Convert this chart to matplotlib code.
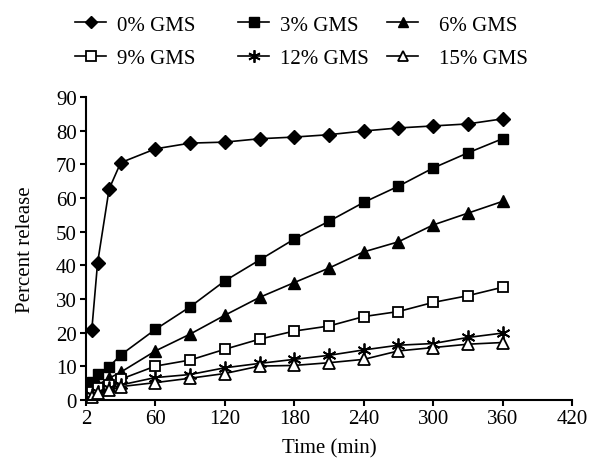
import matplotlib
matplotlib.use("Agg")
import matplotlib.pyplot as plt

plt.rcParams['font.family'] = ['Liberation Serif', 'DejaVu Serif']
plt.rcParams['font.size'] = 15

time_min = [5, 10, 20, 30, 60, 90, 120, 150, 180, 210, 240, 270, 300, 330, 360]

gms_0 = [20.8, 40.7, 62.7, 70.5, 74.6, 76.3, 76.6, 77.6, 78.1, 78.8, 79.9, 80.8, 81.4, 82.0, 83.5]
gms_3 = [5.5, 7.9, 9.9, 13.4, 21.0, 27.7, 35.4, 41.6, 47.8, 53.1, 58.7, 63.5, 68.9, 73.4, 77.6]
gms_6 = [3.5, 4.5, 6.5, 8.3, 14.6, 19.6, 25.2, 30.5, 34.9, 39.2, 44.0, 47.0, 52.0, 55.5, 59.0]
gms_9 = [2.5, 3.5, 4.5, 6.2, 10.1, 11.9, 15.1, 18.1, 20.5, 22.0, 24.8, 26.3, 29.0, 31.0, 33.5]
gms_12 = [1.5, 2.5, 3.5, 4.5, 6.7, 7.6, 9.6, 10.9, 12.1, 13.3, 14.9, 16.3, 16.8, 18.6, 19.9]
gms_15 = [1.0, 2.0, 3.0, 4.0, 5.2, 6.5, 7.9, 10.1, 10.3, 11.1, 12.1, 14.6, 15.6, 16.6, 17.1]

x_ticks = [0, 60, 120, 180, 240, 300, 360, 420]
x_tick_labels = ['2', '60', '120', '180', '240', '300', '360', '420']
y_ticks = [0, 10, 20, 30, 40, 50, 60, 70, 80, 90]

fig = plt.figure(figsize=(5.89, 4.6), dpi=100)
ax = fig.add_axes([0.146, 0.128, 0.825, 0.659])

series = [
    (gms_0, '0% GMS', dict(marker='D', markersize=7, mfc='black')),
    (gms_3, '3% GMS', dict(marker='s', markersize=7.5, mfc='black')),
    (gms_6, '6% GMS', dict(marker='^', markersize=8.5, mfc='black')),
    (gms_9, '9% GMS', dict(marker='s', markersize=7.5, mfc='white', mew=1.3)),
    (gms_12, '12% GMS', dict(marker=(6, 2, 0), markersize=10, mew=1.3)),
    (gms_15, '15% GMS', dict(marker='^', markersize=8.5, mfc='white', mew=1.3)),
]

handles = []
for vals, lab, style in series:
    h, = ax.plot(time_min, vals, color='black', linewidth=1.2, mec='black',
                 label=lab, clip_on=False, **style)
    handles.append(h)

ax.set_xlim(0, 420)
ax.set_ylim(0, 90)
ax.set_xticks(x_ticks)
ax.set_xticklabels(x_tick_labels)
ax.set_yticks(y_ticks)
ax.spines['top'].set_visible(False)
ax.spines['right'].set_visible(False)
ax.spines['left'].set_linewidth(1.5)
ax.spines['bottom'].set_linewidth(1.5)
ax.tick_params(direction='out', length=4.5, width=1.5, labelsize=15, pad=2)
ax.set_xlabel('Time (min)', fontsize=15, labelpad=7)
ax.set_ylabel('Percent release', fontsize=15, labelpad=15)

# legend as three columns, placed like the reference
col_x = [75 / 589, 238 / 589, 387 / 589]
text_pad = [0.5, 0.5, 1.0]
for c, x0 in enumerate(col_x):
    pair = [handles[c], handles[c + 3]]
    fig.legend(pair, [h.get_label() for h in pair], loc='upper left',
               bbox_to_anchor=(x0, 0.965), frameon=False, borderpad=0,
               borderaxespad=0, handlelength=1.5, handletextpad=text_pad[c],
               labelspacing=0.65, fontsize=15, markerscale=0.9)

fig.savefig('out.png', dpi=100)
